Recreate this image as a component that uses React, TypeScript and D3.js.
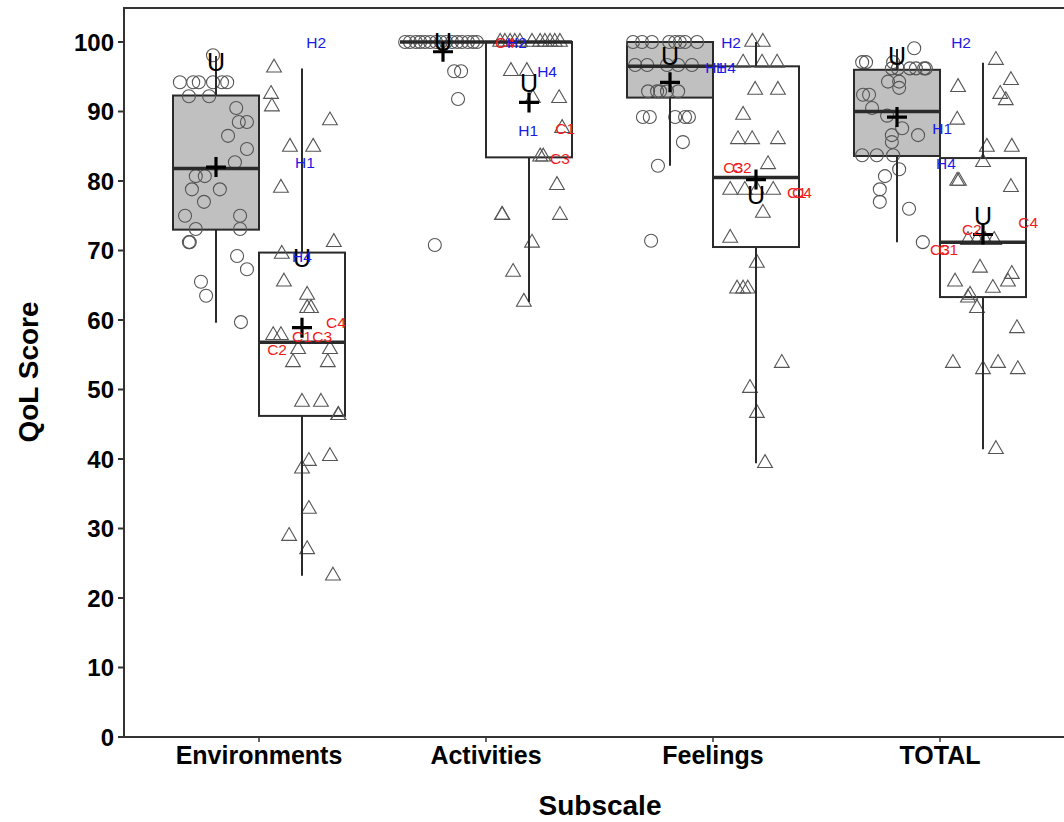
import React from 'react';
import * as d3 from 'd3';

// subscales on the x axis
const categories = ['Environments', 'Activities', 'Feelings', 'TOTAL'];
const groups = ['healthy', 'clinical'];
const yTicks = [0, 10, 20, 30, 40, 50, 60, 70, 80, 90, 100];

// box stats per subscale: [q1, median, q3, whiskerLow, whiskerHigh]
const healthyBox = [
  [73.0, 81.8, 92.3, 59.6, 98.0],
  [100, 100, 100, 100, 100],
  [92.0, 96.5, 100, 82.2, 100],
  [83.6, 90.0, 96.0, 71.2, 99.0],
];
const clinicalBox = [
  [46.2, 56.8, 69.7, 23.2, 96.2],
  [83.4, 100, 100, 62.6, 100],
  [70.5, 80.5, 96.5, 39.4, 100],
  [63.3, 71.2, 83.3, 41.4, 97.0],
];
const healthyMean = [82.0, 98.6, 94.2, 89.2];
const clinicalMean = [58.9, 91.3, 80.2, 72.3];
// "U" markers
const healthyU = [97.1, 100, 98.0, 98.0];
const clinicalU = [68.9, 94.1, 78.0, 75.0];

// individual scores: [value, jitter (-1..1 of half box)]
const healthyPoints = [
  [[98.1, -0.07], [94.2, -0.84], [94.2, -0.53], [94.2, -0.4], [94.2, -0.07], [94.2, 0.14], [94.2, 0.26],
   [92.2, -0.63], [92.2, -0.16], [90.5, 0.47], [88.5, 0.53], [88.5, 0.72], [86.5, 0.28], [84.6, 0.72],
   [82.7, 0.44], [80.7, -0.47], [80.7, -0.26], [78.8, -0.56], [78.8, 0.09], [77.0, -0.28], [75.0, -0.72],
   [75.0, 0.56], [73.1, -0.47], [73.1, 0.56], [71.2, -0.63], [71.2, -0.61], [69.2, 0.49], [67.3, 0.72],
   [65.5, -0.35], [63.5, -0.23], [59.7, 0.58]],
  [[100, -0.88], [100, -0.77], [100, -0.63], [100, -0.53], [100, -0.42], [100, -0.3], [100, -0.16],
   [100, -0.05], [100, 0.07], [100, 0.21], [100, 0.33], [100, 0.44], [100, 0.58], [100, 0.7], [100, 0.79],
   [95.8, 0.26], [95.8, 0.42], [91.8, 0.35], [70.8, -0.19]],
  [[100, -0.86], [100, -0.65], [100, -0.42], [100, -0.02], [100, 0.12], [100, 0.23], [100, 0.35], [100, 0.63],
   [96.7, -0.81], [96.7, -0.53], [96.7, -0.07], [96.7, 0.19], [96.7, 0.51],
   [92.9, -0.51], [92.9, -0.3], [92.9, -0.23], [92.9, -0.07], [92.9, 0.19],
   [89.2, -0.63], [89.2, -0.47], [89.2, 0.12], [89.2, 0.35], [89.2, 0.44],
   [85.6, 0.3], [82.2, -0.28], [71.4, -0.44]],
  [[99.1, 0.4], [97.1, -0.81], [97.1, -0.72], [97.1, -0.09], [96.2, -0.12], [96.2, 0.02], [96.2, 0.3],
   [96.2, 0.44], [96.2, 0.63], [96.2, 0.67], [94.3, -0.21], [94.3, 0.05], [93.4, 0.05], [92.4, -0.79],
   [92.4, -0.65], [90.5, -0.58], [89.4, -0.23], [87.6, 0.12], [86.6, -0.12], [86.6, 0.49], [85.6, -0.12],
   [83.7, -0.81], [83.7, -0.47], [83.7, -0.09], [81.7, 0.05], [80.7, -0.28], [78.8, -0.4], [77.0, -0.4],
   [76.0, 0.28], [71.2, 0.6]],
];
const clinicalPoints = [
  [[96.3, -0.65], [92.5, -0.72], [90.7, -0.7], [88.7, 0.65], [84.9, -0.28], [84.9, 0.26], [79.0, -0.49],
   [71.2, 0.74], [69.5, -0.47], [65.5, -0.42], [63.6, 0.12], [61.7, 0.12], [61.7, 0.21], [57.8, -0.67],
   [57.8, -0.49], [55.8, -0.09], [55.8, 0.65], [53.9, -0.21], [53.9, 0.6], [48.2, 0], [48.2, 0.44],
   [46.3, 0.84], [46.3, 0.85], [40.4, 0.65], [39.7, 0.16], [38.6, 0], [32.8, 0.16], [28.9, -0.3],
   [27.0, 0.12], [23.2, 0.72]],
  [[100, -0.67], [100, -0.56], [100, -0.44], [100, -0.33], [100, -0.21], [100, 0.07], [100, 0.26],
   [100, 0.37], [100, 0.49], [100, 0.6], [100, 0.72], [95.8, -0.42], [95.8, -0.05], [91.9, 0.09],
   [91.9, 0.7], [87.6, 0.77], [83.5, 0.26], [83.5, 0.33], [79.4, 0.65], [75.1, -0.63], [75.1, -0.62],
   [75.1, 0.72], [71.1, 0.07], [66.9, -0.37], [62.6, -0.12]],
  [[100, -0.09], [100, 0.16], [97.0, -0.3], [97.0, 0.14], [97.0, 0.49], [93.1, -0.02], [93.1, 0.51],
   [89.5, -0.3], [86.0, -0.42], [86.0, -0.09], [86.0, 0.51], [82.4, 0.28], [78.7, -0.6], [78.7, -0.26],
   [78.7, 0.02], [78.7, 0.4], [75.4, 0.16], [71.8, -0.6], [68.2, 0.02], [64.5, -0.44], [64.5, -0.3],
   [64.5, -0.19], [53.8, 0.6], [50.2, -0.14], [46.6, 0.02], [39.4, 0.21]],
  [[97.4, 0.3], [94.5, 0.65], [93.5, -0.58], [92.5, 0.4], [91.6, 0.53], [88.8, -0.6], [84.9, 0.09],
   [84.9, 0.67], [82.7, 0], [80.0, -0.6], [80.0, -0.56], [79.1, 0.65], [71.5, -0.35], [71.5, -0.14],
   [71.5, 0.05], [71.5, 0.26], [67.5, -0.07], [66.6, 0.67], [65.5, -0.65], [65.5, 0.58], [64.6, 0.23],
   [63.6, -0.3], [63.2, -0.35], [61.7, -0.14], [58.8, 0.79], [53.8, -0.7], [53.8, 0.35], [52.9, 0],
   [52.9, 0.81], [41.4, 0.3]],
];

// case labels: [category index, text, value, offset from category centre in half boxes]
const hLabels = [
  [0, 'H2', 100, 1.33], [0, 'H1', 82.7, 1.07], [0, 'H4', 69.1, 1.0],
  [1, 'H2', 100, 0.72], [1, 'H4', 95.7, 1.42], [1, 'H1', 87.3, 0.98],
  [2, 'H2', 99.9, 0.42], [2, 'H1', 96.3, 0.05], [2, 'H4', 96.3, 0.3],
  [3, 'H2', 99.9, 0.49], [3, 'H1', 87.5, 0.05], [3, 'H4', 82.6, 0.14],
];
const cLabels = [
  [0, 'C4', 59.6, 1.79], [0, 'C1', 57.7, 1.0], [0, 'C3', 57.6, 1.47], [0, 'C2', 55.7, 0.42],
  [1, 'C4', 100, 0.44], [1, 'C1', 87.5, 1.84], [1, 'C3', 83.2, 1.72],
  [2, 'C3', 82.0, 0.47], [2, 'C2', 82.0, 0.67], [2, 'C1', 78.4, 1.95], [2, 'C4', 78.4, 2.07],
  [3, 'C4', 74.0, 2.05], [3, 'C2', 73.1, 0.74], [3, 'C3', 70.1, 0.0], [3, 'C1', 70.1, 0.19],
];

const font = '"Liberation Sans", Arial, sans-serif';

export default function App() {
  const width = 1064;
  const height = 822;
  const left = 124;
  const top = 8;
  const bottom = 737;

  const x = d3.scalePoint().domain(categories).range([259, 940]);
  const dodge = d3.scaleBand().domain(groups).range([-86, 86]);
  const bw = dodge.bandwidth();
  const jitter = d3.scaleLinear().domain([-1, 1]).range([-bw / 2, bw / 2]);
  const y = d3.scaleLinear().domain([0, 100]).range([bottom, 42]);
  const tri = d3.symbol(d3.symbolTriangle, 95)();

  const boxes = [
    { g: 'healthy', stats: healthyBox, mean: healthyMean, u: healthyU, pts: healthyPoints, fill: '#c0c0c0' },
    { g: 'clinical', stats: clinicalBox, mean: clinicalMean, u: clinicalU, pts: clinicalPoints, fill: '#ffffff' },
  ];
  const cx = (cat: string, g: string) => (x(cat) as number) + (dodge(g) as number) + bw / 2;
  const stroke = '#2a2a2a';

  return (
    <svg width={width} height={height} style={{ position: 'absolute', left: 0, top: 0, background: '#fff' }}>
      {/* box fills */}
      {boxes.map((b) =>
        categories.map((cat, i) => {
          const [q1, , q3] = b.stats[i];
          return (
            <rect key={b.g + cat} x={cx(cat, b.g) - bw / 2} y={y(q3)} width={bw} height={y(q1) - y(q3)}
              fill={b.fill} stroke={stroke} strokeWidth={2} />
          );
        })
      )}
      {/* points */}
      {boxes.map((b) =>
        categories.map((cat, i) =>
          b.pts[i].map(([v, j], k) => {
            const px = cx(cat, b.g) + jitter(j);
            return b.g === 'healthy' ? (
              <circle key={b.g + cat + k} cx={px} cy={y(v)} r={6.5} fill="none" stroke="#555" strokeWidth={1.1} />
            ) : (
              <path key={b.g + cat + k} d={tri} transform={`translate(${px},${y(v)})`} fill="none" stroke="#555" strokeWidth={1.1} />
            );
          })
        )
      )}
      {/* whiskers, medians */}
      {boxes.map((b) =>
        categories.map((cat, i) => {
          const [q1, med, q3, lo, hi] = b.stats[i];
          const c = cx(cat, b.g);
          return (
            <g key={'w' + b.g + cat} stroke={stroke}>
              <line x1={c} x2={c} y1={y(q1)} y2={y(lo)} strokeWidth={2} />
              <line x1={c} x2={c} y1={y(q3)} y2={y(hi)} strokeWidth={2} />
              <line x1={c - bw / 2} x2={c + bw / 2} y1={y(med)} y2={y(med)} strokeWidth={3.5} />
            </g>
          );
        })
      )}
      {/* means and U markers */}
      {boxes.map((b) =>
        categories.map((cat, i) => {
          const c = cx(cat, b.g);
          return (
            <g key={'m' + b.g + cat}>
              <text x={c} y={y(b.u[i])} dy="0.36em" textAnchor="middle" fontFamily={font} fontSize={25} fill="#000">U</text>
              <path d={`M${c - 10},${y(b.mean[i])}h20M${c},${y(b.mean[i]) - 10}v20`} stroke="#000" strokeWidth={3.2} />
            </g>
          );
        })
      )}
      {/* case labels */}
      {cLabels.map(([ci, t, v, dx], k) => (
        <text key={'c' + k} x={(x(categories[ci as number]) as number) + jitter(dx as number)} y={y(v as number)}
          dy="0.36em" textAnchor="middle" fontFamily={font} fontSize={15.5} fill="#ee1c1c">{t}</text>
      ))}
      {hLabels.map(([ci, t, v, dx], k) => (
        <text key={'h' + k} x={(x(categories[ci as number]) as number) + jitter(dx as number)} y={y(v as number)}
          dy="0.36em" textAnchor="middle" fontFamily={font} fontSize={15.5} fill="#1a1ae6">{t}</text>
      ))}
      {/* axes frame */}
      <g stroke="#333" strokeWidth={2} fill="none">
        <line x1={left} x2={left} y1={top} y2={bottom + 1} />
        <line x1={left - 1} x2={width} y1={bottom} y2={bottom} />
        <line x1={left - 1} x2={width} y1={top} y2={top} />
      </g>
      {yTicks.map((t) => (
        <g key={'yt' + t}>
          <line x1={left - 6} x2={left} y1={y(t)} y2={y(t)} stroke="#333" strokeWidth={2} />
          <text x={left - 10} y={y(t)} dy="0.36em" textAnchor="end" fontFamily={font} fontWeight="bold" fontSize={24}>{t}</text>
        </g>
      ))}
      {categories.map((cat) => (
        <g key={'xt' + cat}>
          <line x1={x(cat)} x2={x(cat)} y1={bottom} y2={bottom + 5} stroke="#333" strokeWidth={1.5} />
          <text x={x(cat)} y={764} textAnchor="middle" fontFamily={font} fontWeight="bold" fontSize={25}>{cat}</text>
        </g>
      ))}
      <text x={600} y={815} textAnchor="middle" fontFamily={font} fontWeight="bold" fontSize={28}>Subscale</text>
      <text transform="translate(38,372) rotate(-90)" textAnchor="middle" fontFamily={font} fontWeight="bold" fontSize={28}>QoL Score</text>
    </svg>
  );
}
